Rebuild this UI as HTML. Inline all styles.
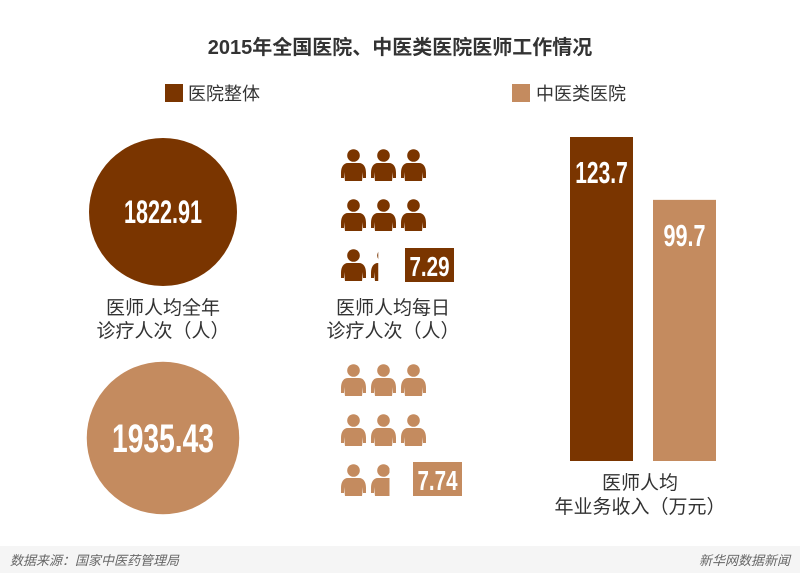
<!DOCTYPE html>
<html><head><meta charset="utf-8"><style>
body{margin:0;width:800px;height:573px;background:#fff;overflow:hidden;font-family:"Liberation Sans","Noto Sans CJK SC",sans-serif;}
svg{display:block}
.cn{font-family:"Liberation Sans","Noto Sans CJK SC",sans-serif;}
.num{font-family:"Liberation Sans Narrow","Liberation Sans",sans-serif;font-weight:bold;}
</style></head><body>
<svg width="800" height="573" viewBox="0 0 800 573" id="chart">
<defs id="defs"></defs>
<text x="400" y="54" text-anchor="middle" font-size="20" font-weight="bold" fill="#333" class="cn">2015年全国医院、中医类医院医师工作情况</text>
<g>
<rect x="165" y="84" width="18" height="18" fill="#7a3500"/>
<text x="188" y="100" font-size="18" fill="#333" class="cn">医院整体</text>
<rect x="512" y="84" width="18" height="18" fill="#c48b5f"/>
<text x="536" y="100" font-size="18" fill="#333" class="cn">中医类医院</text>
</g>
<g id="marks"></g>
<rect x="0" y="546" width="800" height="27" fill="#f5f5f5"/>
<text x="10" y="565" font-size="13" font-style="italic" fill="#666" class="cn">数据来源：国家中医药管理局</text>
<text x="790" y="565" font-size="13" font-style="italic" fill="#666" text-anchor="end" class="cn">新华网数据新闻</text>
</svg>
<script>
const groups = ['医院整体','中医类医院'];
const colors = ['#7a3500','#c48b5f'];
const annualVisits = [1822.91, 1935.43];
const dailyVisits = [7.29, 7.74];
const income = [123.7, 99.7];
const NS='http://www.w3.org/2000/svg';
const g=document.getElementById('marks');
const defs=document.getElementById('defs');
function el(t,a,p){const e=document.createElementNS(NS,t);for(const k in a)e.setAttribute(k,a[k]);(p||g).appendChild(e);return e;}
function txt(x,y,s,size,fill,cls,w){const a={x:x,y:y,'font-size':size,fill:fill,'text-anchor':'middle',class:cls};if(w){a.textLength=w;a.lengthAdjust='spacingAndGlyphs';}const e=el('text',a);e.textContent=s;return e;}
const circCY=[212,438];
const rScale=v=>74*Math.sqrt(v/annualVisits[0]);
annualVisits.forEach((v,i)=>{
  const c=el('circle',{cx:163,cy:circCY[i],r:rScale(v),fill:colors[i]});
  
  
  const t=txt(163,circCY[i]+(i?14:11),v.toFixed(2),i?40:32,'#fff','num',i?102:78);
  
  
});
let l=txt(163,314,'医师人均全年',19,'#333','cn');
l=txt(163,337,'诊疗人次（人）',19,'#333','cn');
const iconTop=[149,364];
const personPath='M7,14 L18,14 C22.5,14 25,18 25,24 L25,29 L22,29 L22,23 L21,32 L4,32 L3,23 L3,29 L0,29 L0,24 C0,18 2.5,14 7,14 Z';
dailyVisits.forEach((v,gi)=>{
  const n=Math.ceil(v);
  for(let k=0;k<n;k++){
    const frac=Math.min(1,v-k);
    const row=Math.floor(k/3),col=k%3;
    const x=341+col*30,y=iconTop[gi]+row*50;
    const id='cp'+gi+'_'+k;
    const cp=el('clipPath',{id:id},defs);
    el('rect',{x:0,y:0,width:25*frac,height:32},cp);
    const pg=el('g',{transform:'translate('+x+','+y+')'});
    const inner=el('g',{'clip-path':'url(#'+id+')',fill:colors[gi]},pg);
    
    
    el('circle',{cx:12.5,cy:6.5,r:6.3},inner);
    el('path',{d:personPath},inner);
  }
  const bx=gi?413:405,by=iconTop[gi]+(gi?98:99);
  const b=el('rect',{x:bx,y:by,width:49,height:34,fill:colors[gi]});
  
  
  const t=txt(bx+24.5,by+28,v.toFixed(2),28,'#fff','num',40);
  
  
});
l=txt(393,314,'医师人均每日',19,'#333','cn');
l=txt(393,337,'诊疗人次（人）',19,'#333','cn');
const base=461,yScale=v=>base-v*(324/123.7);
const barX=[570,653];
income.forEach((v,i)=>{
  const r=el('rect',{x:barX[i],y:yScale(v),width:63,height:base-yScale(v),fill:colors[i]});
  
  
  const s=v.toFixed(1);
  const t=txt(barX[i]+31.5,yScale(v)+46,s,31,'#fff','num',s.length*10.5);
  
  
});
l=txt(640,489,'医师人均',19,'#333','cn');
l=txt(640,513,'年业务收入（万元）',19,'#333','cn');
</script>
</body></html>
